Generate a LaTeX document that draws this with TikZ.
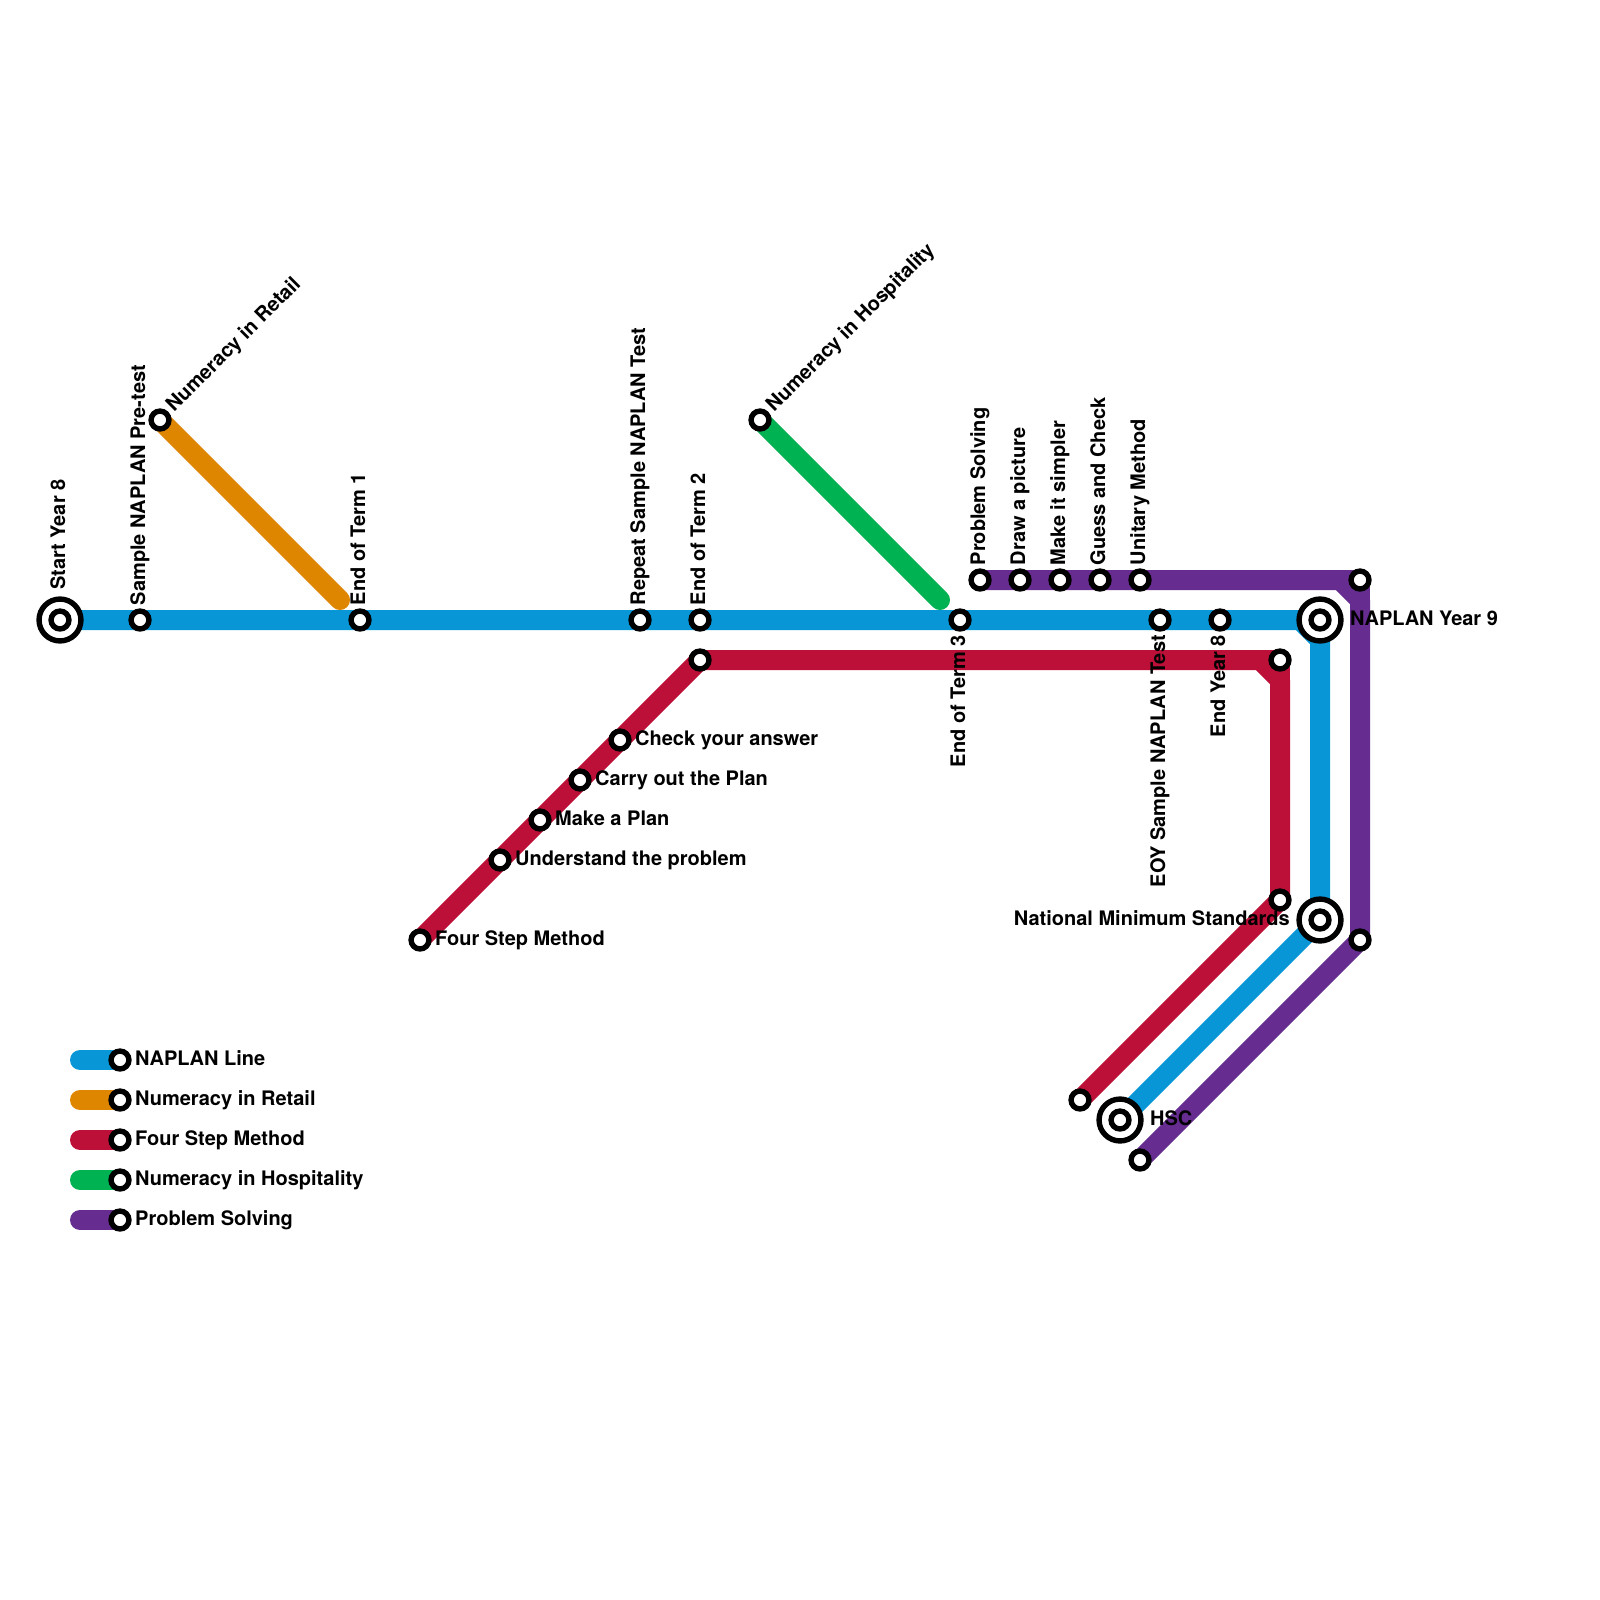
\documentclass[tikz,border=0pt]{standalone}
\usepackage{fontspec}
\setmainfont{TeX Gyre Heros}
\usetikzlibrary{backgrounds}
\definecolor{naplanblue}{HTML}{0896D7}
\definecolor{retailorange}{HTML}{DF8600}
\definecolor{fourstepred}{HTML}{BD1038}
\definecolor{hospgreen}{HTML}{00B251}
\definecolor{solvepurple}{HTML}{662C90}
\tikzset{
  stn/.style={draw=black,fill=white,circle,line width=5.4pt,inner sep=0,minimum size=17.9pt},
  hub/.style={draw=black,fill=white,circle,line width=5.4pt,inner sep=0,minimum size=41.9pt},
  route/.style={line width=20pt,line cap=round,line join=round},
  lbl/.style={inner sep=0,font=\fontsize{20}{24}\selectfont\bfseries},
  uplbl/.style={lbl,rotate=90,anchor=base west},
  downlbl/.style={lbl,rotate=90,anchor=base east},
  diaglbl/.style={lbl,rotate=45,anchor=base west},
  rightlbl/.style={lbl,anchor=base west},
  leftlbl/.style={lbl,anchor=base east}
}

\begin{document}
\begin{tikzpicture}[x=1pt,y=-1pt]
      \useasboundingbox (0, 0) rectangle (1600, 1600);

      % NAPLAN line
      \node[hub](starthub) at (60, 620) {};
      \node[stn](start) at (60, 620) {};
      \node[stn](pretest) at (140, 620) {};
      \node[stn](term1) at (360, 620) {};
      \node[stn](repeat) at (640, 620) {};
      \node[stn](term2) at (700, 620) {};
      \node[stn](term3) at (960, 620) {};
      \node[stn](eoy) at (1160, 620) {};
      \node[stn](year8) at (1220, 620) {};
      \node[hub](year9hub) at (1320, 620) {};
      \node[stn](year9) at (1320, 620) {};
      \node[hub](minstdhub) at (1320, 920) {};
      \node[stn](minstd) at (1320, 920) {};
      \node[hub](hschub) at (1120, 1120) {};
      \node[stn](hsc) at (1120, 1120) {};

      % side lines
      \node[stn](retail) at (160, 420) {};
      \node[stn](hosp) at (760, 420) {};
      \coordinate (retailend) at (340, 600);
      \coordinate (hospend) at (940, 600);

      % four step line
      \node[stn](foursteps) at (420, 940) {};
      \node[stn](understand) at (500, 860) {};
      \node[stn](plan) at (540, 820) {};
      \node[stn](carry) at (580, 780) {};
      \node[stn](check) at (620, 740) {};
      \node[stn](redtop) at (700, 660) {};
      \node[stn](redright) at (1280, 660) {};
      \node[stn](redlow) at (1280, 900) {};
      \node[stn](redend) at (1080, 1100) {};

      % problem solving line
      \node[stn](solving) at (980, 580) {};
      \node[stn](picture) at (1020, 580) {};
      \node[stn](simpler) at (1060, 580) {};
      \node[stn](guess) at (1100, 580) {};
      \node[stn](unitary) at (1140, 580) {};
      \node[stn](purpletop) at (1360, 580) {};
      \node[stn](purplelow) at (1360, 940) {};
      \node[stn](purpleend) at (1140, 1160) {};

      \coordinate (bluecornera) at (1300, 620);
      \coordinate (bluecornerb) at (1320, 640);
      \coordinate (redcornera) at (1260, 660);
      \coordinate (redcornerb) at (1280, 680);
      \coordinate (purplecornera) at (1340, 580);
      \coordinate (purplecornerb) at (1360, 600);

      % legend
      \coordinate (keya) at (80, 1060);
      \coordinate (keyb) at (80, 1100);
      \coordinate (keyc) at (80, 1140);
      \coordinate (keyd) at (80, 1180);
      \coordinate (keye) at (80, 1220);
      \node[stn](keyblue) at (120, 1060) {};
      \node[stn](keyorange) at (120, 1100) {};
      \node[stn](keyred) at (120, 1140) {};
      \node[stn](keygreen) at (120, 1180) {};
      \node[stn](keypurple) at (120, 1220) {};

      \begin{scope}[on background layer]
        \draw[route,naplanblue] (start.center) -- (bluecornera) -- (bluecornerb) -- (minstd.center) -- (hsc.center);
        \draw[route,retailorange] (retail.center) -- (retailend);
        \draw[route,hospgreen] (hosp.center) -- (hospend);
        \draw[route,fourstepred] (foursteps.center) -- (redtop.center) -- (redcornera) -- (redcornerb) -- (redlow.center) -- (redend.center);
        \draw[route,solvepurple] (solving.center) -- (purplecornera) -- (purplecornerb) -- (purplelow.center) -- (purpleend.center);
        \draw[route,fourstepred] (redcornera) -- (redright.center) -- (redcornerb);
        \draw[route,solvepurple] (purplecornera) -- (purpletop.center) -- (purplecornerb);
        \draw[route,naplanblue] (keya) -- (keyblue.center);
        \draw[route,retailorange] (keyb) -- (keyorange.center);
        \draw[route,fourstepred] (keyc) -- (keyred.center);
        \draw[route,hospgreen] (keyd) -- (keygreen.center);
        \draw[route,solvepurple] (keye) -- (keypurple.center);
      \end{scope}

      \node[uplbl](lstart) at (65, 590) {Start Year 8};
      \node[uplbl](lpretest) at (145, 605.5) {Sample NAPLAN Pre-test};
      \node[uplbl](lterm1) at (365, 605.5) {End of Term 1};
      \node[uplbl](lrepeat) at (645, 605.5) {Repeat Sample NAPLAN Test};
      \node[uplbl](lterm2) at (705, 605.5) {End of Term 2};
      \node[uplbl](lsolving) at (985, 565.5) {Problem Solving};
      \node[uplbl](lpicture) at (1025, 565.5) {Draw a picture};
      \node[uplbl](lsimpler) at (1065, 565.5) {Make it simpler};
      \node[uplbl](lguess) at (1105, 565.5) {Guess and Check};
      \node[uplbl](lunitary) at (1145, 565.5) {Unitary Method};

      \node[downlbl](lterm3) at (965, 635) {End of Term 3};
      \node[downlbl](leoy) at (1165, 635) {EOY Sample NAPLAN Test};
      \node[downlbl](lyear8) at (1225, 635) {End Year 8};

      \node[diaglbl](lretail) at (174, 413) {Numeracy in Retail};
      \node[diaglbl](lhosp) at (774, 413) {Numeracy in Hospitality};

      \node[rightlbl](lcheck) at (635, 745) {Check your answer};
      \node[rightlbl](lcarry) at (595, 785) {Carry out the Plan};
      \node[rightlbl](lplan) at (555, 825) {Make a Plan};
      \node[rightlbl](lunderstand) at (515, 865) {Understand the problem};
      \node[rightlbl](lfoursteps) at (435, 945) {Four Step Method};
      \node[rightlbl](lyear9) at (1350, 625) {NAPLAN Year 9};
      \node[rightlbl](lhsc) at (1150, 1125) {HSC};
      \node[leftlbl](lminstd) at (1290, 925) {National Minimum Standards};

      \node[rightlbl](lkeyblue) at (135, 1065) {NAPLAN Line};
      \node[rightlbl](lkeyorange) at (135, 1105) {Numeracy in Retail};
      \node[rightlbl](lkeyred) at (135, 1145) {Four Step Method};
      \node[rightlbl](lkeygreen) at (135, 1185) {Numeracy in Hospitality};
      \node[rightlbl](lkeypurple) at (135, 1225) {Problem Solving};
    \end{tikzpicture}
\end{document}
